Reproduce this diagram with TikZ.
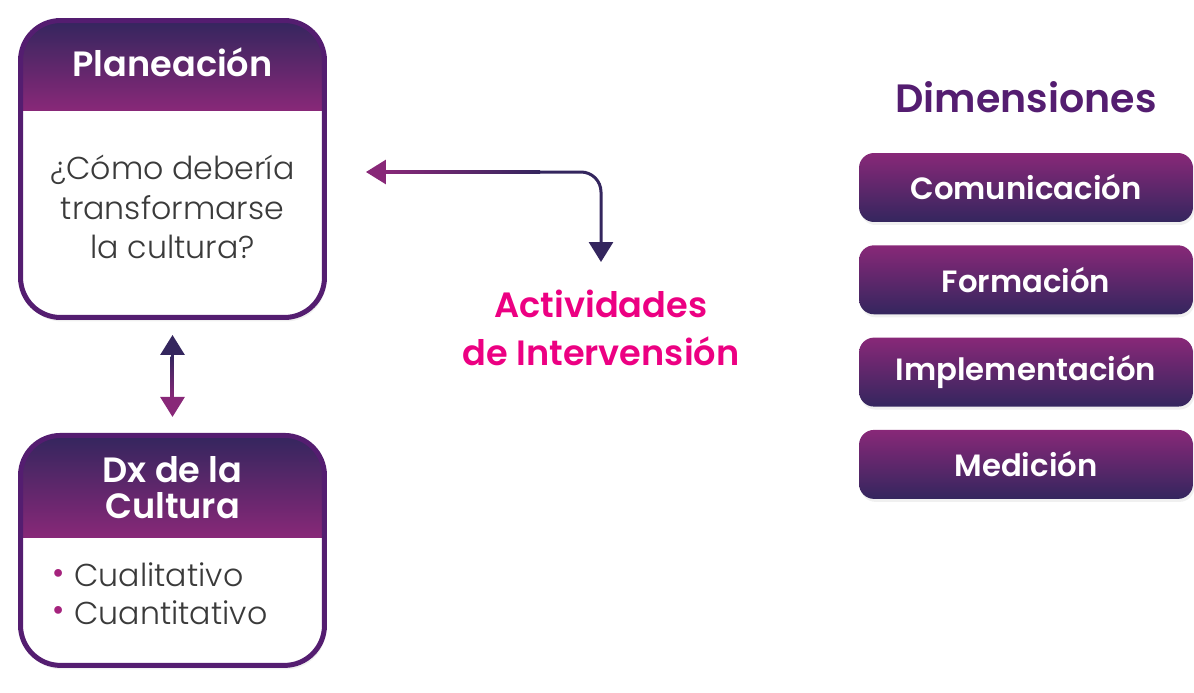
\documentclass[tikz,border=0pt]{standalone}
\usepackage{fontspec}
\IfFontExistsTF{Poppins SemiBold}
  {\setmainfont{Poppins}[BoldFont={Poppins SemiBold}]}
  {\setmainfont{Poppins}}
\IfFontExistsTF{Poppins Light}
  {\newfontfamily\lightfont{Poppins Light}}
  {\newfontfamily\lightfont{Poppins}}
\usetikzlibrary{positioning}
\usetikzlibrary{calc}
\usetikzlibrary{arrows.meta}
\usetikzlibrary{shadows}
\definecolor{nightviolet}{RGB}{52, 38, 94}
\definecolor{plum}{RGB}{136, 40, 120}
\definecolor{frameviolet}{RGB}{84, 29, 112}
\definecolor{hotpink}{RGB}{236, 0, 130}
\definecolor{bodygray}{RGB}{58, 58, 58}
\definecolor{dotpink}{RGB}{165, 35, 125}

\begin{document}
\begin{tikzpicture}[
    x=0.02cm, y=-0.02cm,
    % node styles
    card/.style = {
      draw=none,
      inner sep=0pt,
      outer sep=0pt,
      minimum width=6.08cm
    },
    headtxt/.style = {
      align=center,
      font=\fontsize{20}{20.5}\selectfont\bfseries,
      text=white
    },
    bodytxt/.style = {
      align=center,
      font=\lightfont\fontsize{18}{22.7}\selectfont,
      text=bodygray
    },
    dimbox/.style = {
      rounded corners=0.3cm,
      minimum width=6.68cm,
      minimum height=1.38cm,
      top color=plum,
      bottom color=nightviolet,
      drop shadow={opacity=0.12, shadow xshift=0.03cm, shadow yshift=-0.06cm},
      font=\fontsize{17.5}{18}\selectfont\bfseries,
      text=white
    },
    % arrow styles
    frame/.style = {line width=0.1cm, draw=frameviolet, rounded corners=0.8cm},
    twoarr/.style = {{Triangle[width=0.48cm, length=0.4cm, color=nightviolet]}-{Triangle[width=0.48cm, length=0.4cm, color=plum]}, line width=0.06cm, draw=nightviolet},
    elbowarr/.style = {{Triangle[width=0.48cm, length=0.4cm, color=plum]}-{Triangle[width=0.48cm, length=0.4cm, color=nightviolet]}, line width=0.06cm, draw=nightviolet, rounded corners=0.4cm}
  ]
  \useasboundingbox (0,0) rectangle (1194,693);

  % --- Cards
  \node[card, minimum height=5.94cm] (plan) at (172.5,169) {};
  \node[card, minimum height=4.6cm, below=2.36cm of plan] (dx) {};

  \foreach \c/\h in {plan/89.5, dx/102.5} {
    \fill[white, rounded corners=0.8cm, drop shadow={opacity=0.12, shadow xshift=0.03cm, shadow yshift=-0.08cm}]
      (\c.north west) rectangle (\c.south east);
    \begin{scope}
      \clip[rounded corners=0.8cm] (\c.north west) rectangle (\c.south east);
      \shade[top color=nightviolet, bottom color=plum]
        (\c.north west) rectangle ($(\c.north east)+(0,\h)$);
    \end{scope}
    \draw[frame] (\c.north west) rectangle (\c.south east);
  }

  \node[headtxt, anchor=base] (planhead) at (172.5,76) {Planeación};
  \node[bodytxt] (planbody) at (172.5,207) {¿Cómo debería\\transformarse\\la cultura?};

  \node[headtxt] (dxhead) at (172.5,488) {Dx de la\\Cultura};
  \node[bodytxt, align=left, anchor=west, font=\lightfont\fontsize{18}{21.5}\selectfont] (dxlist) at (46,594)
    {\textcolor{dotpink}{\fontsize{19}{19}\selectfont\raisebox{0.15ex}{•}}\hspace{0.2cm}Cualitativo\\
     \textcolor{dotpink}{\fontsize{19}{19}\selectfont\raisebox{0.15ex}{•}}\hspace{0.2cm}Cuantitativo};

  % --- Actividades
  \node[anchor=north, inner sep=0pt, align=center, text=hotpink,
        font=\fontsize{20}{27}\selectfont\bfseries] (act) at (601,290)
    {Actividades\\de Intervensión};

  % --- Dimensiones
  \node[font=\fontsize{22.5}{24}\selectfont\bfseries, text=frameviolet] (dimtitle) at (1026,97) {Dimensiones};
  \foreach \t [count=\i] in {Comunicación, Formación, Implementación, Medición}
    \node[dimbox] (dim\i) at (1026,{187.5+92.3*(\i-1)}) {\t};

  % --- Arrows
  \draw[twoarr, shorten <=0.35cm, shorten >=0.37cm] (plan.south) -- (dx.north);
  \shade[top color=nightviolet, bottom color=plum] (170.5,356) rectangle (173.5,398);

  \coordinate (elbow) at (600,172);
  \draw[elbowarr, shorten <=0.83cm, shorten >=0.56cm] (plan.east |- elbow) -| (act.north);
  \shade[left color=plum, right color=nightviolet] (385,170.5) rectangle (540,173.5);

\end{tikzpicture}
\end{document}
